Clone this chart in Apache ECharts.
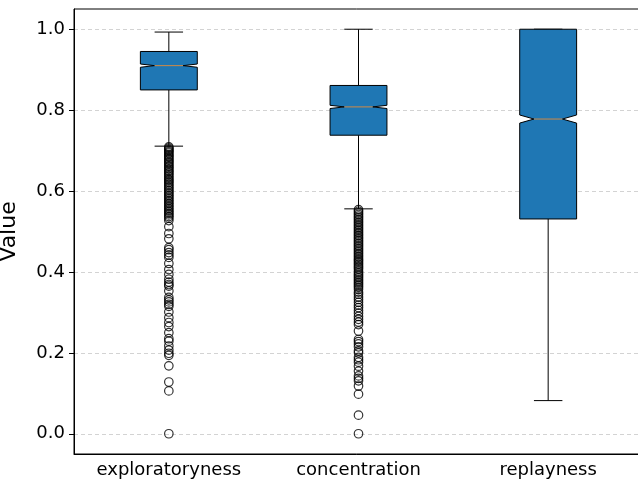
<!DOCTYPE html>
<html>
<head>
<meta charset="utf-8">
<script src="https://cdn.jsdelivr.net/npm/echarts@6/dist/echarts.min.js"></script>
<style>html,body{margin:0;padding:0;background:#fff}#c{width:638px;height:481px}</style>
</head>
<body>
<div id="c"></div>
<script>
var categories = ['exploratoryness', 'concentration', 'replayness'];
// [whiskerLow, q1, notchLow, median, notchHigh, q3, whiskerHigh]
var boxStats = [
  [0.711, 0.850, 0.906, 0.910, 0.914, 0.945, 0.993],
  [0.556, 0.738, 0.804, 0.808, 0.812, 0.861, 1.000],
  [0.082, 0.531, 0.768, 0.778, 0.788, 1.000, 1.000]
];
var yTicks = [0, 0.2, 0.4, 0.6, 0.8, 1.0];
var outliersExploratoryness = [
  0.709, 0.706, 0.703, 0.700, 0.697, 0.694, 0.690, 0.687, 0.684, 0.680, 0.677, 0.673,
  0.670, 0.666, 0.662, 0.659, 0.655, 0.651, 0.648, 0.644, 0.640, 0.636, 0.632, 0.628,
  0.625, 0.621, 0.617, 0.613, 0.609, 0.605, 0.601, 0.597, 0.593, 0.589, 0.585, 0.581,
  0.577, 0.573, 0.569, 0.565, 0.561, 0.557, 0.553, 0.549, 0.545, 0.541, 0.537, 0.533,
  0.527, 0.512, 0.495, 0.482, 0.460, 0.455, 0.448, 0.442, 0.436, 0.421, 0.406, 0.394,
  0.382, 0.375, 0.369, 0.365, 0.353, 0.337, 0.331, 0.326, 0.320, 0.315, 0.301, 0.287,
  0.275, 0.265, 0.250, 0.235, 0.229, 0.217, 0.207, 0.199, 0.194, 0.168, 0.128, 0.106, 0.000
];
var outliersConcentration = [
  0.554, 0.550, 0.546, 0.542, 0.538, 0.534, 0.530, 0.526, 0.522, 0.518, 0.514, 0.510,
  0.506, 0.502, 0.498, 0.494, 0.490, 0.486, 0.482, 0.478, 0.474, 0.470, 0.466, 0.462,
  0.458, 0.454, 0.450, 0.446, 0.442, 0.438, 0.434, 0.430, 0.427, 0.423, 0.419, 0.415,
  0.411, 0.407, 0.402, 0.398, 0.394, 0.390, 0.386, 0.382, 0.378, 0.374, 0.370, 0.366,
  0.362, 0.357, 0.350, 0.345, 0.338,
  0.332, 0.325, 0.318, 0.312, 0.305, 0.298, 0.290, 0.283, 0.276, 0.270, 0.254, 0.233,
  0.228, 0.222, 0.215, 0.205, 0.200, 0.189, 0.183, 0.177, 0.167, 0.155, 0.143, 0.137,
  0.131, 0.118, 0.098, 0.046, 0.000
];
var outliersReplayness = [];

var outlierSets = [outliersExploratoryness, outliersConcentration, outliersReplayness];
var outlierData = [];
outlierSets.forEach(function (arr, i) {
  arr.forEach(function (v) { outlierData.push([categories[i], v]); });
});
var boxData = boxStats.map(function (s, i) { return [i].concat(s); });

var FONT = 'DejaVu Sans';
var chart = echarts.init(document.getElementById('c'), null, {renderer: 'canvas'});

function renderBox(params, api) {
  var idx = api.value(0);
  var lo = api.value(1), q1 = api.value(2), nlo = api.value(3), med = api.value(4),
      nhi = api.value(5), q3 = api.value(6), hi = api.value(7);
  var band = api.size([1, 0])[0];
  var half = band * 0.3 / 2;
  var capHalf = half / 2;
  var c = function (v) { return api.coord([idx, v]); };
  var pLo = c(lo), pQ1 = c(q1), pNlo = c(nlo), pMed = c(med), pNhi = c(nhi), pQ3 = c(q3), pHi = c(hi);
  var x = pMed[0];
  var L = x - half, R = x + half, cl = x - capHalf, cr = x + capHalf;
  var black = '#000';
  return {
    type: 'group',
    children: [
      {type: 'line', shape: {x1: x, y1: pQ1[1], x2: x, y2: pLo[1]}, style: {stroke: black, lineWidth: 1}},
      {type: 'line', shape: {x1: x, y1: pQ3[1], x2: x, y2: pHi[1]}, style: {stroke: black, lineWidth: 1}},
      {type: 'line', shape: {x1: cl, y1: pLo[1], x2: cr, y2: pLo[1]}, style: {stroke: black, lineWidth: 1}},
      {type: 'line', shape: {x1: cl, y1: pHi[1], x2: cr, y2: pHi[1]}, style: {stroke: black, lineWidth: 1}},
      {type: 'polygon', shape: {points: [
        [L, pQ1[1]], [R, pQ1[1]], [R, pNlo[1]], [cr, pMed[1]], [R, pNhi[1]], [R, pQ3[1]],
        [L, pQ3[1]], [L, pNhi[1]], [cl, pMed[1]], [L, pNlo[1]]
      ]}, style: {fill: '#1f77b4', stroke: black, lineWidth: 1}},
      {type: 'line', shape: {x1: cl, y1: pMed[1], x2: cr, y2: pMed[1]}, style: {stroke: '#d08a45', lineWidth: 1}}
    ]
  };
}

chart.setOption({
  animation: false,
  backgroundColor: '#fff',
  grid: {left: 74, right: -5, top: 9, bottom: 27, containLabel: false, outerBoundsMode: 'none',
    show: true, borderColor: '#000', borderWidth: 1, backgroundColor: 'transparent'},
  xAxis: {
    type: 'category', data: categories, boundaryGap: true,
    axisLine: {onZero: false, lineStyle: {color: '#000', width: 1}},
    axisTick: {alignWithLabel: true, length: 5, lineStyle: {color: '#000'}},
    axisLabel: {interval: 0, color: '#000', fontFamily: FONT, fontSize: 18, margin: 7},
    splitLine: {show: false}
  },
  yAxis: {
    type: 'value', min: -0.05, max: 1.05,
    name: 'Value', nameLocation: 'middle', nameRotate: 90, nameGap: 54,
    nameTextStyle: {color: '#000', fontFamily: FONT, fontSize: 22},
    axisLine: {show: true, lineStyle: {color: '#000', width: 1}},
    axisTick: {show: true, length: 5, customValues: yTicks, lineStyle: {color: '#000'}},
    axisLabel: {color: '#000', fontFamily: FONT, fontSize: 18, margin: 9, customValues: yTicks,
      formatter: function (v) { return v.toFixed(1); }},
    splitLine: {show: true, lineStyle: {color: '#c8c8c8', type: [4, 3], width: 0.8}}
  },
  series: [
    {
      type: 'custom', renderItem: renderBox, data: boxData,
      encode: {x: 0, y: [1, 2, 3, 4, 5, 6, 7]}, z: 2
    },
    {
      type: 'scatter', data: outlierData, symbol: 'circle', symbolSize: 8.5,
      itemStyle: {color: 'rgba(255,255,255,0)', borderColor: '#000', borderWidth: 1.2}, z: 3
    }
  ]
});
</script>
</body>
</html>
